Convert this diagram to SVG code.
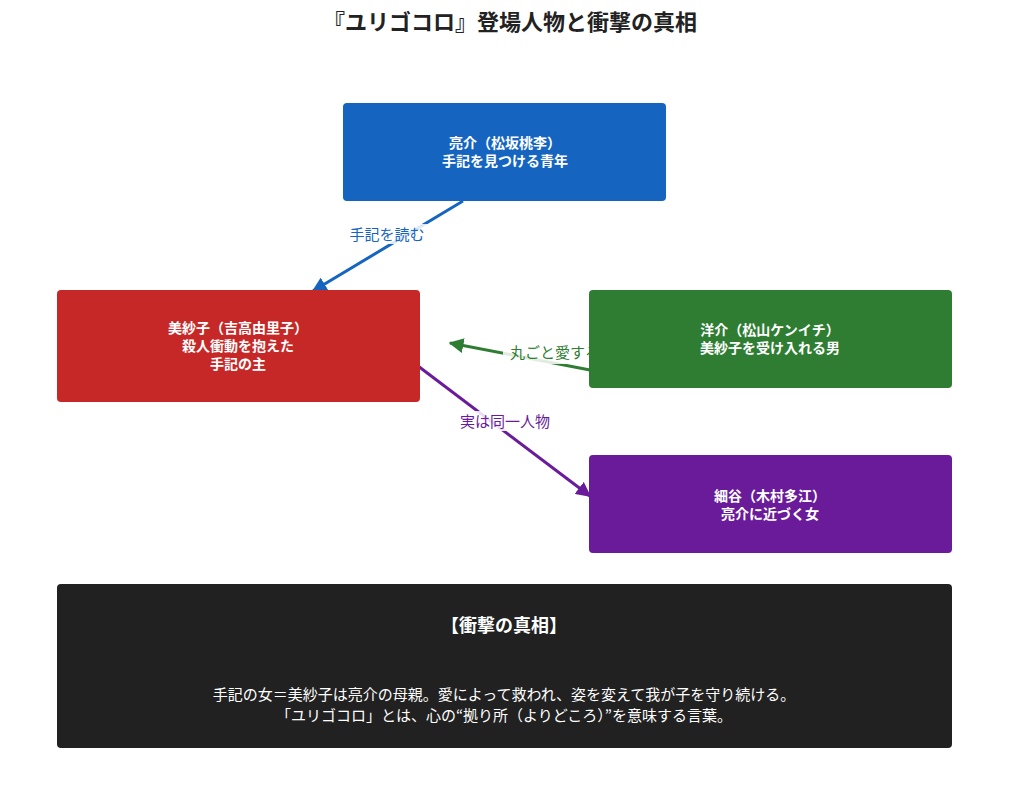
<svg xmlns="http://www.w3.org/2000/svg" width="1009" height="800" viewBox="0 0 1009 800">
<style>
text{font-family:"Noto Sans CJK JP","Noto Sans",sans-serif;text-anchor:middle}
.n{fill:#fff;font-size:14px;font-weight:bold}
.l{font-size:15px}
.lb{fill:#fff;fill-opacity:0.85}
</style>
<defs>
<marker id="mb" viewBox="0 0 10 10" refX="9" refY="5" markerWidth="5" markerHeight="5" orient="auto"><path d="M0,0L10,5L0,10z" fill="#1565c0"/></marker>
<marker id="mg" viewBox="0 0 10 10" refX="9" refY="5" markerWidth="5" markerHeight="5" orient="auto"><path d="M0,0L10,5L0,10z" fill="#2e7d32"/></marker>
<marker id="mp" viewBox="0 0 10 10" refX="9" refY="5" markerWidth="5" markerHeight="5" orient="auto"><path d="M0,0L10,5L0,10z" fill="#6a1b9a"/></marker>
</defs>
<rect width="1009" height="800" fill="#fff"/>
<text x="510" y="30" font-size="22" font-weight="bold" fill="#222">『ユリゴコロ』登場人物と衝撃の真相</text>
<g id="connectors" stroke-width="3" fill="none">
<line x1="463" y1="201" x2="313" y2="291" stroke="#1565c0" marker-end="url(#mb)"/>
<line x1="590" y1="370" x2="450" y2="343" stroke="#2e7d32" marker-end="url(#mg)"/>
<line x1="418" y1="366" x2="590" y2="496" stroke="#6a1b9a" marker-end="url(#mp)"/>
</g>
<g id="labels">
<rect class="lb" x="344" y="224" width="86" height="20"/>
<text class="l" x="387" y="240" fill="#1565c0">手記を読む</text>
<rect class="lb" x="503" y="342" width="105" height="22" rx="3"/>
<text class="l" x="555" y="358" fill="#2e7d32">丸ごと愛する</text>
<rect class="lb" x="454" y="411" width="102" height="20"/>
<text class="l" x="505" y="427" fill="#6a1b9a">実は同一人物</text>
</g>
<g id="ryosuke"><rect x="343" y="103" width="323" height="98" rx="4" fill="#1565c0"/>
<text class="n" x="505" y="148">亮介（松坂桃李）</text><text class="n" x="505" y="166">手記を見つける青年</text></g>
<g id="misako"><rect x="57" y="290" width="363" height="112" rx="4" fill="#c62828"/>
<text class="n" x="238" y="333">美紗子（吉高由里子）</text><text class="n" x="238" y="351">殺人衝動を抱えた</text><text class="n" x="238" y="369">手記の主</text></g>
<g id="yosuke"><rect x="589" y="290" width="363" height="98" rx="4" fill="#2e7d32"/>
<text class="n" x="770" y="335">洋介（松山ケンイチ）</text><text class="n" x="770" y="353">美紗子を受け入れる男</text></g>
<g id="hosoya"><rect x="589" y="455" width="363" height="98" rx="4" fill="#6a1b9a"/>
<text class="n" x="770" y="501">細谷（木村多江）</text><text class="n" x="770" y="519">亮介に近づく女</text></g>
<g id="truth"><rect x="57" y="584" width="895" height="164" rx="4" fill="#212121"/>
<text x="504" y="632" fill="#fff" font-size="18" font-weight="bold">【衝撃の真相】</text>
<text x="504" y="700" fill="#fff" font-size="15">手記の女＝美紗子は亮介の母親。愛によって救われ、姿を変えて我が子を守り続ける。</text>
<text x="504" y="721" fill="#fff" font-size="15">「ユリゴコロ」とは、心の“拠り所（よりどころ）”を意味する言葉。</text></g>
</svg>
